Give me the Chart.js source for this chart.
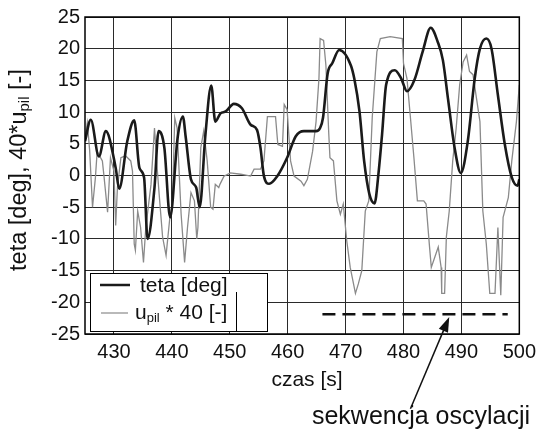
<!DOCTYPE html>
<html>
<head>
<meta charset="utf-8">
<script src="https://cdn.jsdelivr.net/npm/chart.js@4.4.0/dist/chart.umd.min.js"></script>
<style>
  body { margin: 0; background: #fff; }
</style>
</head>
<body>
<canvas id="myChart" width="542" height="439"></canvas>
<script>
// teta [deg]
var tetaT = [425, 426, 427.4, 428.6, 430.3, 430.9, 432.3, 433.5, 434.4, 435.2, 435.8, 437, 437.7, 438.7, 439.7,
  441, 441.9, 442.4, 443.3, 444.2, 444.8, 445.8, 446.8, 447.5, 448.4, 449.3, 450.7, 452.1, 453.6, 454.7,
  455.3, 455.9, 456.8, 458.2, 459.9, 461.4, 462.8, 464.9, 465.6, 466.1, 466.9, 467.7, 468.9, 470.9, 471.5,
  472.4, 473.2, 474.1, 475, 475.7, 476.3, 477, 478.5, 479.6, 480.6, 481.9, 483.3, 484.7, 485.9, 486.8,
  487.7, 488.8, 489.9, 491.1, 492.3, 493.2, 494.3, 495.2, 496.3, 497.5, 498.7, 499.7, 500];
var tetaV = [5.4, 8.8, 3.0, 7.0, 1.2, -2.1, 5.4, 8.7, 1.2, -0.3, -10, -1.9, 7.0, 4.4, -6.6,
  6.0, 9.3, 6.0, -0.6, -1.9, -5.0, 6.5, 14.2, 8.5, 9.8, 10.1, 11.3, 10.6, 8.0, 7.2,
  4.4, -0.1, -1.3, -0.1, 2.8, 6.2, 7.0, 7.0, 7.5, 9.1, 16.1, 17.7, 19.8, 17.4, 15.3,
  10.1, 2.3, -2.9, -4.4, 0.5, 6.5, 14.3, 16.6, 15.3, 13.3, 15.1, 19.5, 23.3, 21.1, 18.2,
  12.0, 4.5, 0.4, 5.4, 15.3, 20.0, 21.6, 20.0, 12.7, 4.9, -0.3, -1.6, -0.6];

// u_pil * 40 [-]
var upilT = [425, 425.4, 425.8, 426.3, 426.8, 427.1, 428, 428.3, 428.9, 429.4, 430, 430.3, 430.6, 431.2,
  432, 432.9, 433.2, 433.5, 433.7, 434.1, 434.6, 435.1, 435.5, 436.4, 437, 437.5, 437.8, 438.4, 439,
  439.6, 440.1, 440.5, 440.9, 441.6, 442.2, 442.7, 443.3, 443.9, 444.3, 444.5, 445, 445.5, 446.1,
  446.7, 447.1, 447.5, 448.1, 448.3, 449, 450.1, 451.9, 453.6, 454.2, 455.3, 455.9, 456.5, 457.9,
  458.3, 459.1, 459.4, 459.9, 460.5, 461.1, 462.3, 462.8, 463.4, 464.3, 464.9, 465.4, 465.6, 466.2,
  466.6, 467.1, 467.3, 467.9, 468.5, 469.1, 469.6, 470.2, 470.8, 471.7, 472.2, 472.8, 473.4, 474,
  474.6, 475.4, 476, 477.7, 479.8, 480, 480.6, 481.2, 481.8, 482.4, 483.5, 483.9, 484.5, 484.8,
  485.4, 486, 486.5, 486.6, 487.1, 487.4, 487.9, 488.5, 489.1, 489.7, 490.3, 490.9, 491.4, 492,
  492.6, 493.2, 493.7, 494.3, 494.9, 495.8, 496.3, 496.8, 497.2, 498.1, 498.7, 499.5, 500];
var upilV = [5.9, 8.3, 4.0, -5.0, -0.3, 3.8, 2.3, -0.3, -5.8, 2.8, 0.7, -7.9, -1.9, 2.8,
  3.1, 2.3, 0.7, -10.8, -11.8, -5.6, -8.2, -13.7, -8.2, -1.4, 7.5, 0.7, -2.9, -9.7, -12.6,
  -7.1, -4.0, 9.1, 7.5, -6.1, -13.7, -8.2, -2.7, -4.0, -10, -8.2, 4.4, 7.0, 2.3,
  -5.0, -5.3, -1.4, -1.9, -1.4, -0.1, 0.4, 0.2, -0.1, 1.0, 1.0, 2.3, 9.3, 9.3,
  4.9, 4.6, 11.2, 10.4, 2.3, -0.1, -0.9, -1.6, -0.6, 3.8, 8.5, 15.3, 21.6, 21.3,
  17.4, 6.5, 2.8, 2.3, -4.0, -6.1, -4.5, -10.3, -14.5, -18.6, -17.1, -15.0, -5.6, -4.0,
  9.1, 19.5, 21.6, 21.9, 21.6, 17.7, 15.3, 9.1, 2.8, -4.0, -4.0, -4.5, -11.3, -14.5,
  -12.9, -11.3, -14.5, -18.6, -18.6, -9.7, -5.6, 2.3, 7.5, 14.3, 17.9, 19.0, 16.4, 15.9,
  12.2, 8.5, -5.6, -10.8, -18.6, -18.6, -8.2, -18.9, -6.6, -3.5, 2.3, 8.5, 14.3];

// dashed marker of the oscillation sequence
var markT = [466, 498];
var markV = [-21.9, -21.9];

var xTicks = [430, 440, 450, 460, 470, 480, 490, 500];
var yTicks = [-25, -20, -15, -10, -5, 0, 5, 10, 15, 20, 25];

var FONT = '"Liberation Sans", Arial, sans-serif';

function pts(t, v) {
  return t.map(function (x, i) { return { x: x, y: v[i] }; });
}

// legend box, frame, axis titles and the arrow note
var extras = {
  id: 'extras',
  afterDatasetsDraw: function (chart) {
    var ctx = chart.ctx, a = chart.chartArea;
    ctx.save();
    // legend
    ctx.fillStyle = '#fff';
    ctx.fillRect(90, 273, 177, 58);
    ctx.strokeStyle = '#000';
    ctx.lineWidth = 1;
    ctx.strokeRect(90.5, 273.5, 177, 58);
    ctx.beginPath();
    ctx.moveTo(236.5, 292);
    ctx.lineTo(236.5, 331);
    ctx.stroke();

    ctx.lineWidth = 2.5;
    ctx.strokeStyle = '#1a1a1a';
    ctx.beginPath(); ctx.moveTo(100, 285); ctx.lineTo(130, 285); ctx.stroke();
    ctx.lineWidth = 1.2;
    ctx.strokeStyle = '#8a8a8a';
    ctx.beginPath(); ctx.moveTo(101, 313); ctx.lineTo(128, 313); ctx.stroke();

    ctx.fillStyle = '#111';
    ctx.textBaseline = 'middle';
    ctx.textAlign = 'left';
    ctx.font = '21px ' + FONT;
    ctx.fillText(chart.data.datasets[0].label, 140, 286);
    ctx.fillText('u', 135, 313);
    var w = ctx.measureText('u').width;
    ctx.font = '13px ' + FONT;
    ctx.fillText('pil', 135 + w, 318);
    var w2 = ctx.measureText('pil').width;
    ctx.font = '21px ' + FONT;
    ctx.fillText(' * 40 [-]', 135 + w + w2, 313);

    // frame
    ctx.strokeStyle = '#000';
    ctx.lineWidth = 1.5;
    ctx.strokeRect(a.left, a.top, a.right - a.left, a.bottom - a.top);
    ctx.restore();
  },
  afterDraw: function (chart) {
    var ctx = chart.ctx, xs = chart.scales.x, ys = chart.scales.y;
    ctx.save();
    ctx.fillStyle = '#111';
    ctx.textBaseline = 'middle';
    ctx.textAlign = 'center';
    ctx.font = '21px ' + FONT;
    ctx.fillText('czas [s]', 307, 380);

    // y title with subscript
    ctx.translate(20, 170);
    ctx.rotate(-Math.PI / 2);
    var p1 = 'teta [deg], 40*u', p2 = 'pil', p3 = ' [-]';
    ctx.font = '23.5px ' + FONT;
    var w1 = ctx.measureText(p1).width, w3 = ctx.measureText(p3).width;
    ctx.font = '15px ' + FONT;
    var w2 = ctx.measureText(p2).width;
    var x0 = -(w1 + w2 + w3) / 2;
    ctx.textAlign = 'left';
    ctx.font = '23.5px ' + FONT;
    ctx.fillText(p1, x0, 0);
    ctx.font = '15px ' + FONT;
    ctx.fillText(p2, x0 + w1, 5);
    ctx.font = '23.5px ' + FONT;
    ctx.fillText(p3, x0 + w1 + w2, 0);
    ctx.setTransform(1, 0, 0, 1, 0, 0);

    // arrow
    var tx = xs.getPixelForValue(487.9), ty = ys.getPixelForValue(-22.3);
    var sx = xs.getPixelForValue(481.2), sy = ys.getPixelForValue(-36.8);
    var ang = Math.atan2(ty - sy, tx - sx);
    ctx.strokeStyle = '#111';
    ctx.fillStyle = '#111';
    ctx.lineWidth = 1.5;
    ctx.beginPath();
    ctx.moveTo(sx, sy);
    ctx.lineTo(tx - 10 * Math.cos(ang), ty - 10 * Math.sin(ang));
    ctx.stroke();
    ctx.beginPath();
    ctx.moveTo(tx, ty);
    ctx.lineTo(tx - 15 * Math.cos(ang) + 5 * Math.sin(ang), ty - 15 * Math.sin(ang) - 5 * Math.cos(ang));
    ctx.lineTo(tx - 15 * Math.cos(ang) - 5 * Math.sin(ang), ty - 15 * Math.sin(ang) + 5 * Math.cos(ang));
    ctx.closePath();
    ctx.fill();

    ctx.font = '25px ' + FONT;
    ctx.textAlign = 'center';
    ctx.textBaseline = 'alphabetic';
    ctx.fillText('sekwencja oscylacji', 421, 424);
    ctx.restore();
  }
};

var ctx = document.getElementById('myChart').getContext('2d');
var chart = new Chart(ctx, {
  type: 'line',
  data: {
    datasets: [{
      label: 'teta [deg]',
      data: pts(tetaT, tetaV),
      borderColor: '#1a1a1a',
      borderWidth: 2.6,
      pointRadius: 0,
      cubicInterpolationMode: 'monotone'
    }, {
      label: 'u_pil * 40 [-]',
      data: pts(upilT, upilV),
      borderColor: '#8a8a8a',
      borderWidth: 1.3,
      pointRadius: 0,
      tension: 0
    }, {
      label: 'mark',
      data: pts(markT, markV),
      borderColor: '#111',
      borderWidth: 2.5,
      borderDash: [13, 7],
      pointRadius: 0
    }]
  },
  options: {
    responsive: false,
    animation: false,
    devicePixelRatio: 1,
    layout: { padding: { top: 15, right: 22, left: 0, bottom: 0 } },
    plugins: { legend: { display: false }, tooltip: { enabled: false } },
    scales: {
      x: {
        type: 'linear',
        min: 425,
        max: 500,
        afterBuildTicks: function (s) { s.ticks = xTicks.map(function (v) { return { value: v }; }); },
        afterFit: function (s) { s.height = 105; },
        grid: { color: '#2a2a2a', lineWidth: 1, drawTicks: false },
        border: { display: false },
        ticks: { color: '#111', padding: 6, maxRotation: 0, font: { family: FONT, size: 20 } }
      },
      y: {
        min: -25,
        max: 25,
        afterBuildTicks: function (s) { s.ticks = yTicks.map(function (v) { return { value: v }; }); },
        afterFit: function (s) { s.width = 85; },
        grid: { color: '#2a2a2a', lineWidth: 1, drawTicks: false },
        border: { display: false },
        ticks: { color: '#111', padding: 5, font: { family: FONT, size: 20 } }
      }
    }
  },
  plugins: [extras]
});
</script>
</body>
</html>
